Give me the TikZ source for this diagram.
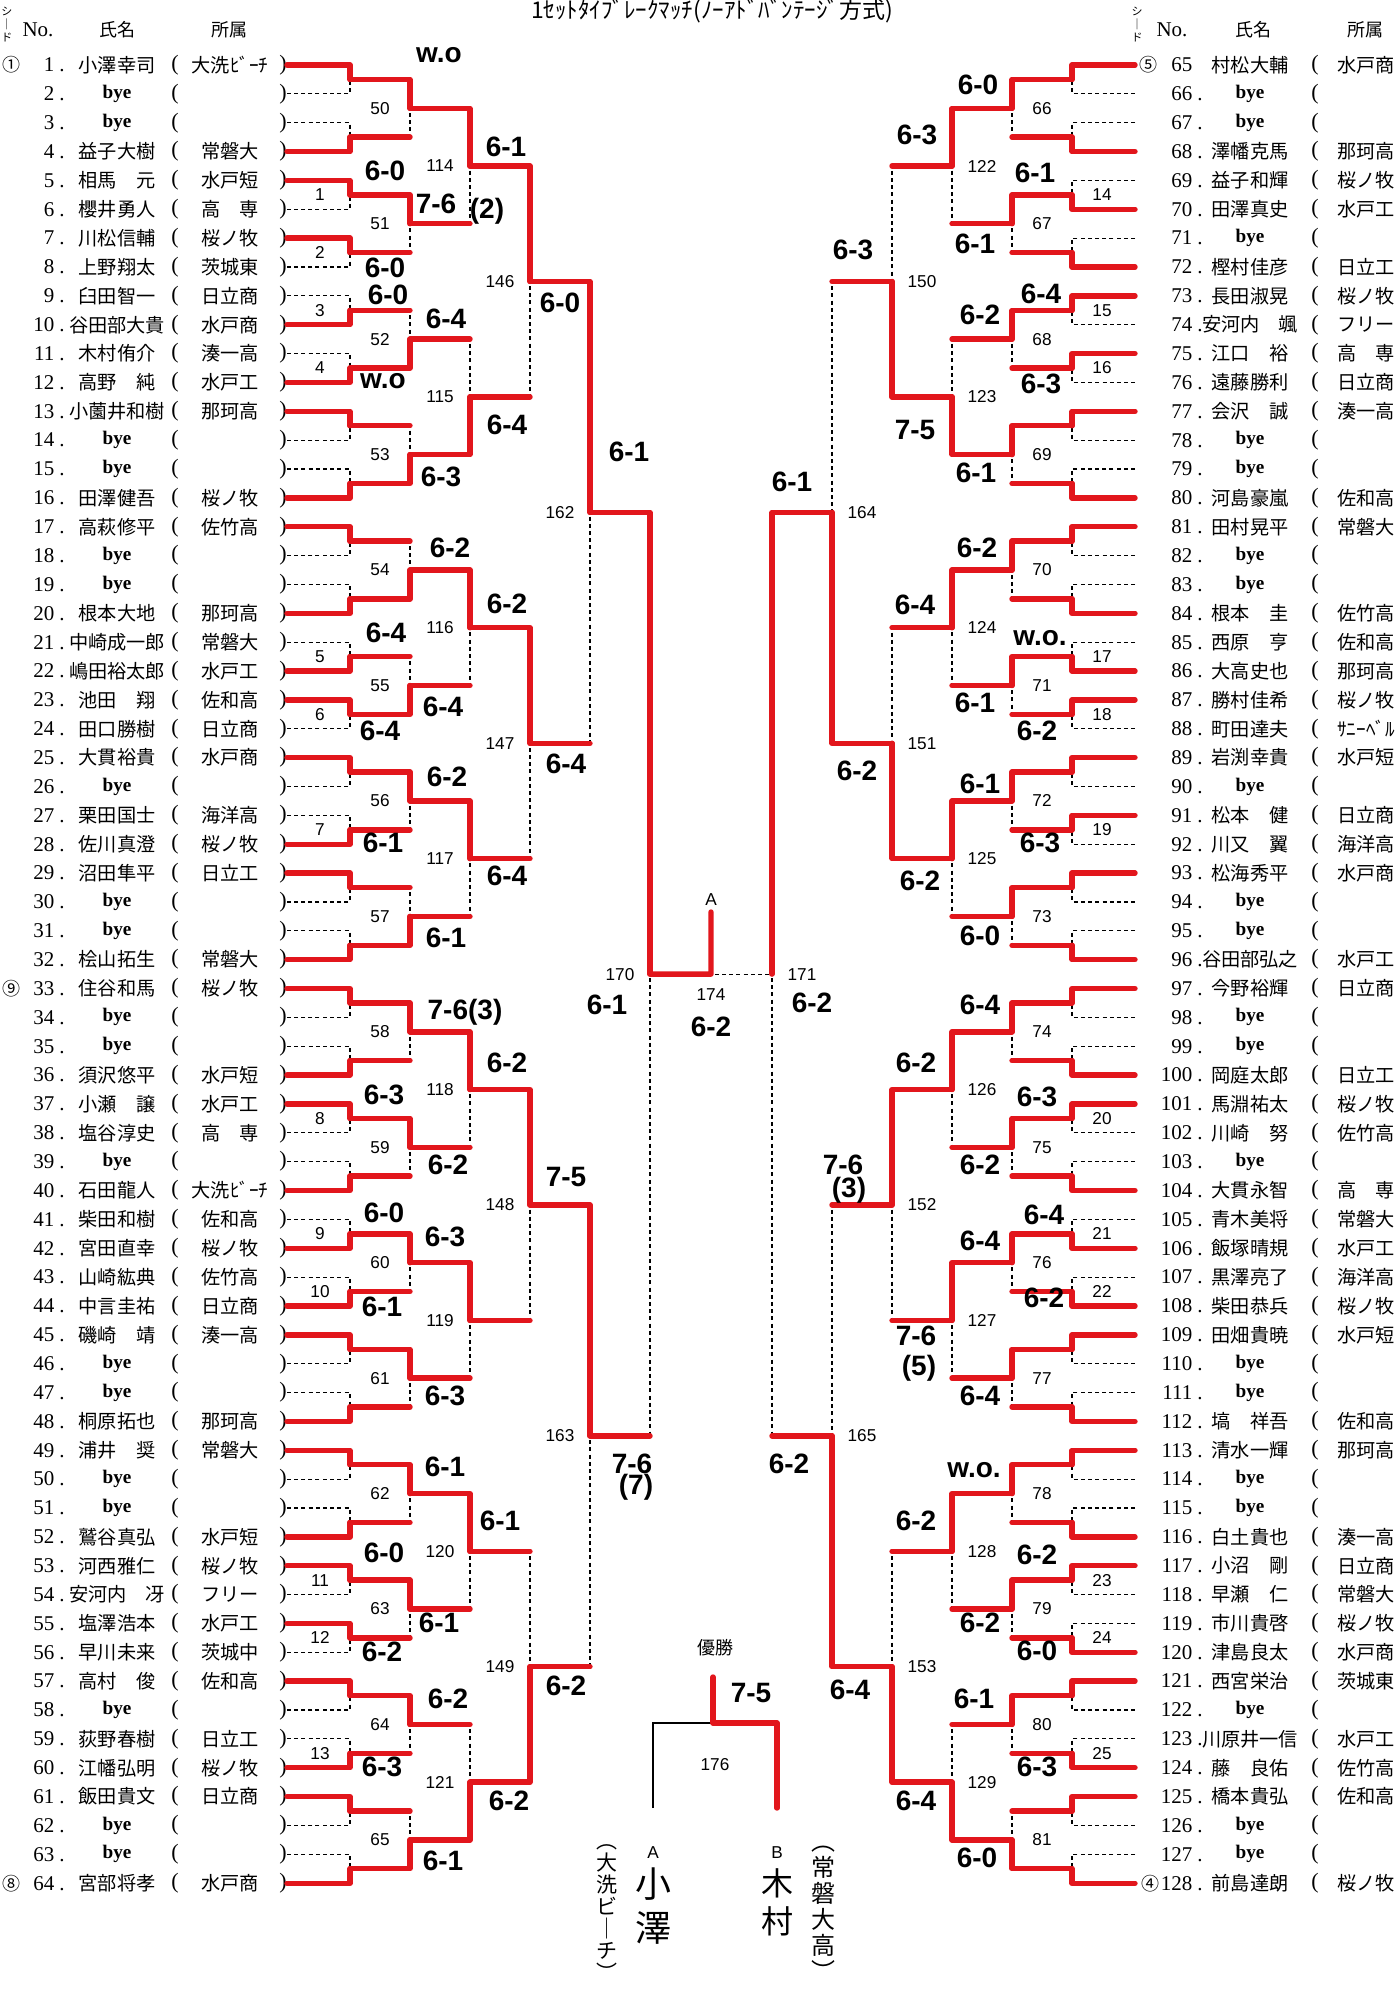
\documentclass[tikz,border=0pt]{standalone}
\usepackage{fontspec}
\setmainfont{Liberation Serif}
\newfontfamily\jp{Noto Sans CJK JP}
\newfontfamily\hand{Liberation Sans}
\usetikzlibrary{positioning}
\definecolor{pen}{RGB}{226,22,28}
\newcommand\byeent{{\rmfamily\bfseries bye}}
\tikzset{
  grid/.style={line width=0.55pt, dash pattern=on 2pt off 1.6pt},
  redline/.style={pen, line width=2.7pt, line cap=round, line join=round},
  pname/.style={font=\jp\fontsize{9.6}{10}\selectfont, inner sep=0pt},
  pnum/.style={font=\fontsize{10.5}{11}\selectfont, inner sep=0pt, anchor=east},
  paren/.style={font=\fontsize{11}{11}\selectfont, inner sep=0pt},
  mnum/.style={font=\hand\fontsize{8.6}{9}\selectfont, inner sep=0pt},
  score/.style={font=\hand\bfseries\fontsize{14}{14}\selectfont, inner sep=0pt},
  seed/.style={font=\jp\fontsize{9}{9}\selectfont, inner sep=0pt},
  head/.style={font=\jp\fontsize{9}{9}\selectfont, inner sep=0pt},
  vhead/.style={font=\jp\fontsize{5.5}{6.5}\selectfont, inner sep=0pt, align=center},
  vpen/.style={font=\jp\fontsize{10.5}{11}\selectfont, inner sep=0pt, align=center},
}
\begin{document}
\begin{tikzpicture}[x=0.5pt,y=-0.5pt]
\useasboundingbox (0,0) rectangle (1400,1998);

\node[font=\jp\fontsize{11.5}{12}\selectfont, inner sep=0pt, anchor=base] (title) at (712,18) {1ｾｯﾄﾀｲﾌﾞﾚｰｸﾏｯﾁ(ﾉｰｱﾄﾞﾊﾞﾝﾃｰｼﾞ方式)};

\node[vhead] (hsL) at (7,25) {シ\\｜\\ド};
\node[head, font=\fontsize{10.5}{11}\selectfont] (hnL) at (38,30) {No.};
\node[head] (hpL) at (117,30) {氏名};
\node[head] (hcL) at (229,30) {所属};
\node[vhead] (hsR) at (1137,25) {シ\\｜\\ド};
\node[head, font=\fontsize{10.5}{11}\selectfont] (hnR) at (1172,30) {No.};
\node[head] (hpR) at (1253,30) {氏名};
\node[head] (hcR) at (1365,30) {所属};

\foreach \i/\who/\club in {1/小澤幸司/大洗ﾋﾞｰﾁ, 2/\byeent/{}, 3/\byeent/{}, 4/益子大樹/常磐大,
  5/相馬　元/水戸短, 6/櫻井勇人/高　専, 7/川松信輔/桜ノ牧, 8/上野翔太/茨城東,
  9/臼田智一/日立商, 10/谷田部大貴/水戸商, 11/木村侑介/湊一高, 12/高野　純/水戸工,
  13/小薗井和樹/那珂高, 14/\byeent/{}, 15/\byeent/{}, 16/田澤健吾/桜ノ牧,
  17/高萩修平/佐竹高, 18/\byeent/{}, 19/\byeent/{}, 20/根本大地/那珂高,
  21/中崎成一郎/常磐大, 22/嶋田裕太郎/水戸工, 23/池田　翔/佐和高, 24/田口勝樹/日立商,
  25/大貫裕貴/水戸商, 26/\byeent/{}, 27/栗田国士/海洋高, 28/佐川真澄/桜ノ牧,
  29/沼田隼平/日立工, 30/\byeent/{}, 31/\byeent/{}, 32/桧山拓生/常磐大,
  33/住谷和馬/桜ノ牧, 34/\byeent/{}, 35/\byeent/{}, 36/須沢悠平/水戸短,
  37/小瀬　譲/水戸工, 38/塩谷淳史/高　専, 39/\byeent/{}, 40/石田龍人/大洗ﾋﾞｰﾁ,
  41/柴田和樹/佐和高, 42/宮田直幸/桜ノ牧, 43/山崎紘典/佐竹高, 44/中言圭祐/日立商,
  45/磯崎　靖/湊一高, 46/\byeent/{}, 47/\byeent/{}, 48/桐原拓也/那珂高,
  49/浦井　奨/常磐大, 50/\byeent/{}, 51/\byeent/{}, 52/鷲谷真弘/水戸短,
  53/河西雅仁/桜ノ牧, 54/安河内　冴/フリー, 55/塩澤浩本/水戸工, 56/早川未来/茨城中,
  57/高村　俊/佐和高, 58/\byeent/{}, 59/荻野春樹/日立工, 60/江幡弘明/桜ノ牧,
  61/飯田貴文/日立商, 62/\byeent/{}, 63/\byeent/{}, 64/宮部将孝/水戸商}{
  \pgfmathsetmacro\yy{65+(\i-1)*28.86}
  \node[pnum] (n\i) at (65,\yy) {\i\hspace{2.5pt}.};
  \node[pname] (p\i) at (117,\yy) {\who};
  \node[paren] (o\i) at (175,\yy) {(};
  \node[pname] (c\i) at (230,\yy) {\club};
  \node[paren] (e\i) at (283,\yy) {)};
}

\foreach \i/\who/\club in {65/村松大輔/水戸商, 66/\byeent/{}, 67/\byeent/{}, 68/澤幡克馬/那珂高,
  69/益子和輝/桜ノ牧, 70/田澤真史/水戸工, 71/\byeent/{}, 72/樫村佳彦/日立工,
  73/長田淑晃/桜ノ牧, 74/安河内　颯/フリー, 75/江口　裕/高　専, 76/遠藤勝利/日立商,
  77/会沢　誠/湊一高, 78/\byeent/{}, 79/\byeent/{}, 80/河島豪嵐/佐和高,
  81/田村晃平/常磐大, 82/\byeent/{}, 83/\byeent/{}, 84/根本　圭/佐竹高,
  85/西原　亨/佐和高, 86/大高史也/那珂高, 87/勝村佳希/桜ノ牧, 88/町田達夫/ｻﾆｰﾍﾞﾙ,
  89/岩渕幸貴/水戸短, 90/\byeent/{}, 91/松本　健/日立商, 92/川又　翼/海洋高,
  93/松海秀平/水戸商, 94/\byeent/{}, 95/\byeent/{}, 96/谷田部弘之/水戸工,
  97/今野裕輝/日立商, 98/\byeent/{}, 99/\byeent/{}, 100/岡庭太郎/日立工,
  101/馬淵祐太/桜ノ牧, 102/川崎　努/佐竹高, 103/\byeent/{}, 104/大貫永智/高　専,
  105/青木美将/常磐大, 106/飯塚晴規/水戸工, 107/黒澤亮了/海洋高, 108/柴田恭兵/桜ノ牧,
  109/田畑貴暁/水戸短, 110/\byeent/{}, 111/\byeent/{}, 112/塙　祥吾/佐和高,
  113/清水一輝/那珂高, 114/\byeent/{}, 115/\byeent/{}, 116/白土貴也/湊一高,
  117/小沼　剛/日立商, 118/早瀬　仁/常磐大, 119/市川貴啓/桜ノ牧, 120/津島良太/水戸商,
  121/西宮栄治/茨城東, 122/\byeent/{}, 123/川原井一信/水戸工, 124/藤　良佑/佐竹高,
  125/橋本貴弘/佐和高, 126/\byeent/{}, 127/\byeent/{}, 128/前島達朗/桜ノ牧}{
  \pgfmathsetmacro\yy{65+(\i-65)*28.86}
  \node[pnum] (n\i) at (1203,\yy) {\i\hspace{2.5pt}\ifnum\i=65 \phantom{.}\else.\fi};
  \node[pname] (p\i) at (1250,\yy) {\who};
  \node[paren] (o\i) at (1315,\yy) {(};
  \node[pname] (c\i) at (1366,\yy) {\club};
}

\node[seed] (sd1) at (12,65) {①};
\node[seed] (sd9) at (12,988.5) {⑨};
\node[seed] (sd8) at (12,1883.2) {⑧};
\node[seed] (sd5) at (1148,65) {⑤};
\node[seed] (sd4) at (1150,1883.2) {④};

% bracket points
\foreach \s/\b/\d in {L/0/1, R/1422/-1}{
  \foreach \i in {1,...,64}
    \coordinate (\s0-\i) at ({\b+(\d)*287},{65+(\i-1)*28.86});
  \foreach \r in {1,...,6}{
    \pgfmathtruncatemacro\cnt{64/2^\r}
    \foreach \k in {1,...,\cnt}
      \coordinate (\s\r-\k) at ({\b+(\d)*(350+60*(\r-1))},{65+((\k-1)*2^\r+(2^\r-1)/2)*28.86});
  }
}

\foreach \s in {L,R}
  \foreach \r in {1,...,6}{
    \pgfmathtruncatemacro\q{\r-1}
    \pgfmathtruncatemacro\cnt{64/2^\r}
    \foreach \k in {1,...,\cnt}{
      \pgfmathtruncatemacro\ka{2*\k-1}
      \pgfmathtruncatemacro\kb{2*\k}
      \draw[grid] (\s\q-\ka) -- (\s\q-\ka -| \s\r-\k) -- (\s\q-\kb -| \s\r-\k) -- (\s\q-\kb);
    }
  }

% winners: 0 = upper, 1 = lower
\foreach \s/\r/\wins in {
  L/1/{0,1,0,0,1,1,0,1,0,1,1,0,0,1,0,1,0,1,0,1,1,1,0,1,0,1,0,0,0,1,0,1},
  L/2/{0,0,1,1,1,1,0,1,0,0,0,0,0,0,0,1},
  L/3/{0,1,0,0,0,0,0,1},
  L/4/{0,0,0,1},
  L/5/{0,0},
  L/6/{0},
  R/1/{0,1,1,1,0,0,0,1,0,1,1,0,0,0,0,1,0,1,0,1,1,1,0,1,0,1,0,1,0,1,0,1},
  R/2/{0,0,0,0,0,0,0,0,0,0,0,0,0,0,0,1},
  R/3/{0,1,0,0,0,0,0,1},
  R/4/{1,1,0,1},
  R/5/{1,1},
  R/6/{0}}{
  \pgfmathtruncatemacro\q{\r-1}
  \foreach \w [count=\k] in \wins {
    \pgfmathtruncatemacro\kw{2*\k-1+\w}
    \pgfmathtruncatemacro\kl{2*\k-\w}
    \draw[redline] (\s\q-\kw) -- (\s\q-\kw -| \s\r-\k) -- (\s\r-\k);
    \ifnum\r>1 \draw[redline] (\s\q-\kl) -- (\s\q-\kl -| \s\r-\k);\fi
  }
}

\foreach \s/\d/\first/\ks in {L/1/1/{3,4,5,6,11,12,14,19,21,22,27,28,30},
                             R/-1/14/{3,5,6,11,12,14,19,21,22,27,28,30}}{
  \foreach \k [count=\c from 0] in \ks {
    \pgfmathtruncatemacro\lab{\first+\c}
    \node[mnum] (m\lab) at ([xshift={(\d)*(-15pt)}]\s1-\k) {\lab};
  }
}
\foreach \s/\d/\r/\first in {L/1/2/50, L/1/3/114, L/1/4/146, L/1/5/162, L/1/6/170,
                             R/-1/2/66, R/-1/3/122, R/-1/4/150, R/-1/5/164, R/-1/6/171}{
  \pgfmathtruncatemacro\cnt{64/2^\r}
  \foreach \k in {1,...,\cnt}{
    \pgfmathtruncatemacro\lab{\first+\k-1}
    \node[mnum] (m\lab) at ([xshift={(\d)*(-15pt)}]\s\r-\k) {\lab};
  }
}

% centre
\coordinate (C) at (711,974.1);
\coordinate (Atop) at (711,912);
\draw[grid] (L6-1) -- (R6-1);
\draw[redline] (L6-1) -- (C) -- (Atop);
\node[mnum, above=3pt of Atop] (Alab) {A};
\node[mnum] (m174) at (711,995) {174};

% final
\coordinate (F) at (713,1723);
\coordinate (Ftop) at (713,1677);
\coordinate (FA) at (653,1808);
\coordinate (FB) at (777,1808);
\draw[line width=0.6pt] (FA) |- (F) -| (FB);
\draw[redline] (Ftop) -- (F) -| (FB);
\node[head] (champ) at (715,1648) {優勝};
\node[mnum] (m176) at (715,1765) {176};
\node[mnum] (Afin) at (653,1853) {A};
\node[vpen, font=\jp\fontsize{18}{22}\selectfont] (Aname) at (653,1906) {小\\澤};
\node[vpen] (Aclub) at (607,1913) {︵\\大\\洗\\ビ\\｜\\チ\\︶};
\node[mnum] (Bfin) at (777,1853) {B};
\node[vpen, font=\jp\fontsize{16}{19}\selectfont] (Bname) at (777,1902) {木\\村};
\node[vpen, font=\jp\fontsize{12}{13}\selectfont] (Bclub) at (823,1913) {︵\\常\\磐\\大\\高\\︶};

\foreach \x/\y/\t [count=\c] in {439/55/w.o, 506/147/6-1, 385/171/6-0, 436/204/7-6, 487/211/{(2)},
  385/268/6-0, 388/295/6-0, 560/303/6-0, 446/319/6-4, 383/381/w.o, 507/425/6-4, 441/477/6-3,
  629/452/6-1, 450/548/6-2, 507/604/6-2, 386/633/6-4, 443/707/6-4, 380/731/6-4, 566/764/6-4,
  447/777/6-2, 383/843/6-1, 507/876/6-4, 446/938/6-1, 607/1005/6-1, 465/1012/{7-6(3)},
  507/1063/6-2, 384/1095/6-3, 448/1165/6-2, 566/1177/7-5, 384/1213/6-0, 445/1237/6-3,
  382/1307/6-1, 445/1396/6-3, 632/1464/7-6, 636/1487/{(7)}, 445/1467/6-1, 500/1521/6-1,
  384/1553/6-0, 439/1623/6-1, 382/1652/6-2, 566/1686/6-2, 448/1699/6-2, 382/1767/6-3,
  509/1801/6-2, 443/1861/6-1,
  978/85/6-0, 917/135/6-3, 1035/173/6-1, 975/244/6-1, 853/250/6-3, 1041/294/6-4, 980/315/6-2,
  1041/384/6-3, 915/430/7-5, 976/473/6-1, 792/482/6-1, 977/548/6-2, 915/605/6-4, 1040/638/w.o.,
  975/703/6-1, 1037/731/6-2, 857/771/6-2, 980/784/6-1, 1040/843/6-3, 920/881/6-2, 980/936/6-0,
  980/1005/6-4, 916/1063/6-2, 1037/1097/6-3, 980/1165/6-2, 843/1165/7-6, 849/1190/{(3)},
  1044/1215/6-4, 980/1241/6-4, 1044/1298/6-2, 916/1336/7-6, 919/1368/{(5)}, 980/1396/6-4,
  789/1464/6-2, 974/1470/w.o., 916/1521/6-2, 1037/1555/6-2, 980/1623/6-2, 1037/1651/6-0,
  850/1690/6-4, 974/1699/6-1, 1037/1767/6-3, 916/1801/6-4, 977/1858/6-0,
  711/1027/6-2, 812/1003/6-2, 751/1693/7-5}
  \node[score] (sc\c) at (\x,\y) {\t};
\end{tikzpicture}
\end{document}
